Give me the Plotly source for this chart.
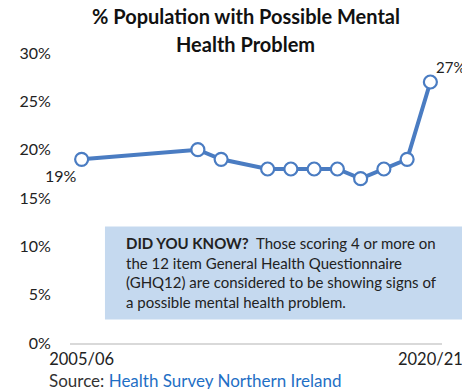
import plotly.graph_objects as go

years = ["2005/06", "2006/07", "2007/08", "2008/09", "2009/10", "2010/11", "2011/12",
         "2012/13", "2013/14", "2014/15", "2015/16", "2016/17", "2017/18", "2018/19",
         "2019/20", "2020/21"]
values = [0.19, None, None, None, None, 0.20, 0.19, None, 0.18, 0.18, 0.18, 0.18,
          0.17, 0.18, 0.19, 0.27]
y_ticks = [0, 0.05, 0.10, 0.15, 0.20, 0.25, 0.30]
y_tick_text = ["0%", "5%", "10%", "15%", "20%", "25%", "30%"]
x_tick_show = ["2005/06", "2020/21"]

BLUE = "#4A7CC2"
FONT = "Lato"
TXT = "#222222"

fig = go.Figure()
fig.add_trace(go.Scatter(
    x=years, y=values, mode="lines+markers", connectgaps=True,
    line=dict(color=BLUE, width=4),
    marker=dict(size=13, color="white", line=dict(color=BLUE, width=2.2)),
    hoverinfo="skip", showlegend=False,
))

# data labels for first and last point
fig.add_annotation(x=years[0], y=values[0], text="19%", showarrow=False,
                   xanchor="right", yanchor="top", xshift=-3, yshift=-5,
                   font=dict(family=FONT, size=16, color=TXT))
fig.add_annotation(x=years[-1], y=values[-1], text="27%", showarrow=False,
                   xanchor="left", yanchor="bottom", xshift=4, yshift=4,
                   font=dict(family=FONT, size=15, color=TXT))

# Title (two lines)
fig.add_annotation(xref="paper", yref="paper", x=0.472, y=1.127,
                   xanchor="center", yanchor="middle", showarrow=False,
                   text="<b>% Population with Possible Mental</b>",
                   font=dict(family=FONT, size=20, color="#111"))
fig.add_annotation(xref="paper", yref="paper", x=0.472, y=1.032,
                   xanchor="center", yanchor="middle", showarrow=False,
                   text="<b>Health Problem</b>",
                   font=dict(family=FONT, size=20, color="#111"))

# Did you know box
fig.add_shape(type="rect", xref="paper", yref="paper", x0=0.094, x1=1.1,
              y0=0.081, y1=0.402, fillcolor="#C5D9EF", line=dict(width=0),
              layer="below")
fig.add_annotation(xref="paper", yref="paper", x=0.146, y=0.384,
                   xanchor="left", yanchor="top", align="left", showarrow=False,
                   text="<b>DID YOU KNOW?</b>  Those scoring 4 or more on<br>"
                        "the 12 item General Health Questionnaire<br>"
                        "(GHQ12) are considered to be showing signs of<br>"
                        "a possible mental health problem.",
                   font=dict(family=FONT, size=15, color=TXT))

# Source
fig.add_annotation(xref="paper", yref="paper", x=-0.062, y=-0.131,
                   xanchor="left", yanchor="middle", showarrow=False,
                   text="Source: <span style='color:#1F6FC5'>Health Survey Northern Ireland</span>",
                   font=dict(family=FONT, size=17, color="#333"))

fig.update_layout(
    width=462, height=381,
    margin=dict(l=62, r=28, t=45, b=46, autoexpand=False),
    paper_bgcolor="white", plot_bgcolor="white",
    xaxis=dict(type="category", categoryorder="array", categoryarray=years,
               range=[-0.5, 15.5], tickmode="array", tickvals=x_tick_show,
               ticktext=x_tick_show, showgrid=False, showline=True,
               linecolor="#D9D9D9", linewidth=1.5, ticks="", automargin=False,
               tickfont=dict(family=FONT, size=16.5, color=TXT)),
    yaxis=dict(range=[0, 0.30], tickmode="array", tickvals=y_ticks,
               ticktext=y_tick_text, showgrid=False, zeroline=False,
               showline=False, ticks="outside", ticklen=15,
               tickcolor="rgba(0,0,0,0)", automargin=False,
               tickfont=dict(family=FONT, size=16, color=TXT)),
)

fig.write_html("out.html")
